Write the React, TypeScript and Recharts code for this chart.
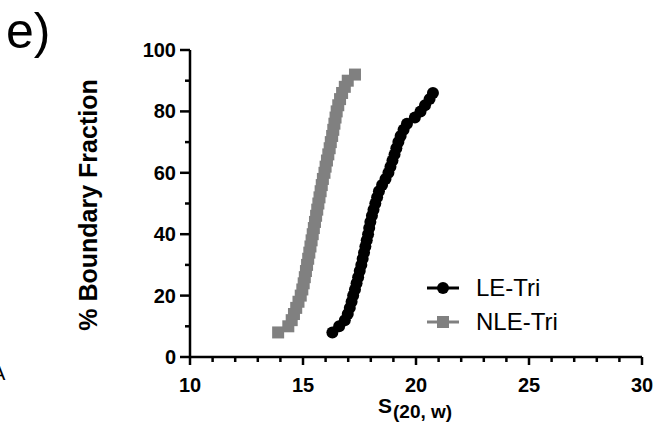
import { ScatterChart, Scatter, XAxis, YAxis, Legend } from 'recharts';

// % boundary fraction (y) vs S(20,w) (x)
const lePct = [8, 10, 12, 14, 16, 18, 20, 22, 24, 26, 28, 30, 32, 34, 36, 38, 40, 42, 44, 46, 48, 50, 52, 54, 56, 58, 60, 62, 64, 66, 68, 70, 72, 74, 76, 78, 80, 82, 84, 86];
const leS = [16.3, 16.6, 16.85, 16.98, 17.07, 17.15, 17.22, 17.3, 17.37, 17.44, 17.51, 17.58, 17.64, 17.7, 17.76, 17.82, 17.88, 17.93, 17.98, 18.05, 18.12, 18.2, 18.28, 18.36, 18.5, 18.65, 18.78, 18.87, 18.96, 19.05, 19.13, 19.22, 19.32, 19.45, 19.6, 19.95, 20.2, 20.4, 20.6, 20.75];

const nlePct = [8, 10, 12, 14, 16, 18, 20, 22, 24, 26, 28, 30, 32, 34, 36, 38, 40, 42, 44, 46, 48, 50, 52, 54, 56, 58, 60, 62, 64, 66, 68, 70, 72, 74, 76, 78, 80, 82, 84, 86, 88, 90, 92];
const nleS = [13.9, 14.35, 14.5, 14.6, 14.7, 14.8, 14.9, 14.97, 15.03, 15.08, 15.13, 15.18, 15.23, 15.28, 15.33, 15.38, 15.43, 15.48, 15.53, 15.58, 15.63, 15.68, 15.73, 15.78, 15.83, 15.88, 15.95, 16.0, 16.06, 16.12, 16.18, 16.23, 16.29, 16.34, 16.39, 16.44, 16.49, 16.56, 16.64, 16.73, 16.85, 16.98, 17.3];

const xTicks = [10, 11, 12, 13, 14, 15, 16, 17, 18, 19, 20, 21, 22, 23, 24, 25, 26, 27, 28, 29, 30];
const yTicks = [0, 10, 20, 30, 40, 50, 60, 70, 80, 90, 100];

const leData = leS.map((x, i) => ({ x, y: lePct[i] }));
const nleData = nleS.map((x, i) => ({ x, y: nlePct[i] }));

const FONT = "'Liberation Sans', Arial, sans-serif";
const GRAY = '#808080';

const XTick = ({ x, y, payload }: any) => {
  const major = payload.value % 5 === 0;
  return (
    <g>
      <line x1={x} x2={x} y1={y} y2={y + (major ? 8 : 5)} stroke="#000" strokeWidth={2.5} />
      {major && (
        <text x={x} y={y + 35} textAnchor="middle" fontFamily={FONT} fontWeight="bold" fontSize={20} fill="#000">
          {payload.value}
        </text>
      )}
    </g>
  );
};

const YTick = ({ x, y, payload }: any) => {
  const major = payload.value % 20 === 0;
  return (
    <g>
      <line x1={x - (major ? 10 : 5)} x2={x} y1={y} y2={y} stroke="#000" strokeWidth={2.5} />
      {major && (
        <text x={x - 14} y={y + 7} textAnchor="end" fontFamily={FONT} fontWeight="bold" fontSize={20} fill="#000">
          {payload.value}
        </text>
      )}
    </g>
  );
};

const Dot = ({ cx, cy }: any) => <circle cx={cx} cy={cy} r={6} fill="#000" />;
const Sq = ({ cx, cy }: any) => <rect x={cx - 6} y={cy - 6} width={12} height={12} fill={GRAY} />;

const yTitle = () => (
  <text x={88} y={205} transform="rotate(-90 88 205)" textAnchor="middle" dominantBaseline="central"
    fontFamily={FONT} fontWeight="bold" fontSize={25} fill="#000">
    % Boundary Fraction
  </text>
);

const xTitle = () => (
  <text x={378} y={413} fontFamily={FONT} fontWeight="bold" fill="#000">
    <tspan fontSize={21}>S</tspan>
    <tspan fontSize={19} dy={5} dx={1}>(20, w)</tspan>
  </text>
);

const renderLegend = ({ payload }: any) => (
  <div style={{ fontFamily: FONT, fontSize: 24, color: '#000' }}>
    {(payload || []).map((entry: any) => {
      const isLe = entry.value === 'LE-Tri';
      const c = isLe ? '#000' : GRAY;
      return (
        <div key={entry.value} style={{ display: 'flex', alignItems: 'center', height: 34 }}>
          <svg width={32} height={20} style={{ marginRight: 17 }}>
            <line x1={0} x2={32} y1={10} y2={10} stroke={c} strokeWidth={3} />
            {isLe ? <circle cx={16} cy={10} r={6} fill={c} /> : <rect x={10} y={4} width={12} height={12} fill={c} />}
          </svg>
          <span>{entry.value}</span>
        </div>
      );
    })}
  </div>
);

export default function App() {
  return (
    <div style={{ position: 'absolute', left: 0, top: 0, width: 663, height: 435, background: '#fff' }}>
      <div style={{ position: 'absolute', left: 6, top: 6, fontFamily: FONT, fontSize: 50, lineHeight: 1 }}>e)</div>
      <div style={{ position: 'absolute', left: -8, top: 363, fontFamily: FONT, fontSize: 20, lineHeight: 1 }}>A</div>
      <ScatterChart width={663} height={435} margin={{ top: 50, right: 21, left: 0, bottom: 0 }}>
        <XAxis
          type="number"
          dataKey="x"
          domain={[10, 30]}
          ticks={xTicks}
          interval={0}
          height={78}
          tickSize={0}
          tickMargin={0}
          tickLine={false}
          axisLine={{ stroke: '#000', strokeWidth: 2.5 }}
          tick={<XTick />}
          allowDataOverflow
          label={{ value: 'S', content: xTitle }}
        />
        <YAxis
          type="number"
          dataKey="y"
          domain={[0, 100]}
          ticks={yTicks}
          interval={0}
          width={190}
          tickSize={0}
          tickMargin={0}
          tickLine={false}
          axisLine={{ stroke: '#000', strokeWidth: 2.5 }}
          tick={<YTick />}
          label={{ value: '% Boundary Fraction', content: yTitle }}
        />
        <Legend
          layout="vertical"
          verticalAlign="middle"
          align="center"
          content={renderLegend}
          wrapperStyle={{ left: 427, top: 271, width: 160 }}
        />
        <Scatter name="LE-Tri" data={leData} fill="#000" line={{ stroke: '#000', strokeWidth: 2 }} shape={<Dot />} isAnimationActive={false} />
        <Scatter name="NLE-Tri" data={nleData} fill={GRAY} line={{ stroke: GRAY, strokeWidth: 2 }} shape={<Sq />} isAnimationActive={false} />
      </ScatterChart>
    </div>
  );
}
